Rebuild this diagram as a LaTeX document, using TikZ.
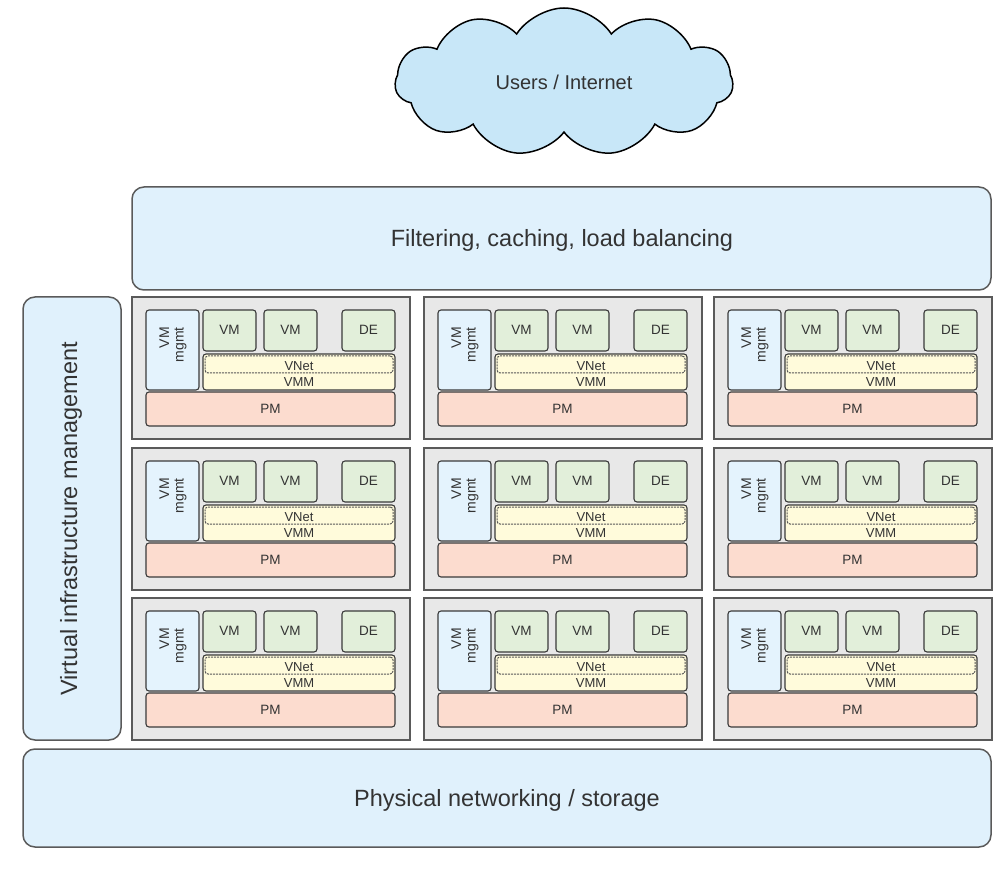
\documentclass[tikz,border=0pt]{standalone}
\usepackage{fontspec}
\setmainfont{Liberation Sans}
\usetikzlibrary{shapes.symbols}
\definecolor{txtc}{HTML}{333333}
\definecolor{barfill}{HTML}{E0F1FC}
\definecolor{barline}{HTML}{5A5A5A}
\definecolor{cloudfill}{HTML}{C8E7F8}
\definecolor{cellfill}{HTML}{E8E8E8}
\definecolor{mgmtfill}{HTML}{E4F3FD}
\definecolor{vmfill}{HTML}{E2EFDA}
\definecolor{vmmfill}{HTML}{FFFBDB}
\definecolor{pmfill}{HTML}{FCDCCF}
\definecolor{boxline}{HTML}{3A3A3A}
\tikzset{
  box/.style={rectangle, anchor=north west, inner sep=0pt, outer sep=0pt, text=txtc},
  bar/.style={box, fill=barfill, draw=barline, line width=1.5pt, rounded corners=12pt, font=\fontsize{23.5}{26}\selectfont},
  cellbox/.style={box, fill=cellfill, draw=barline, line width=1.3pt},
  small/.style={box, draw=boxline, line width=1.1pt, rounded corners=3pt, font=\fontsize{13.5}{15}\selectfont},
  vmbox/.style={small, fill=vmfill},
  mgmtbox/.style={small, fill=mgmtfill},
  vmmbox/.style={small, fill=vmmfill},
  pmbox/.style={small, fill=pmfill},
  vnetbox/.style={box, draw=boxline!85, dash pattern=on 2pt off 1pt, line width=1pt, rounded corners=3pt},
  tinytxt/.style={text=txtc, inner sep=0pt, font=\fontsize{13}{14}\selectfont},
  lbl/.style={text=txtc, inner sep=0pt},
}
\begin{document}
\begin{tikzpicture}[x=1pt,y=-1pt]
\useasboundingbox (0,0) rectangle (1007,874);
% cloud
\node[cloud, cloud puffs=11, cloud puff arc=115, cloud ignores aspect, minimum width=338pt, minimum height=148pt, fill=cloudfill, draw=black, line width=1.5pt, inner sep=0pt, text=txtc, font=\fontsize{20}{22}\selectfont] (cloud) at (564,82) {Users / Internet};
% bars
\node[bar, minimum width=859pt, minimum height=103pt] (filter) at (132,187) {};
\node[lbl, font=\fontsize{23.5}{26}\selectfont] (filtertxt) at (562,240) {Filtering, caching, load balancing};
\node[bar, minimum width=98pt, minimum height=443pt] (vim) at (23,297) {};
\node[lbl, rotate=90, font=\fontsize{23.5}{26}\selectfont] (vimtxt) at (71,519) {Virtual infrastructure management};
\node[bar, minimum width=968pt, minimum height=98pt] (phys) at (23,749) {};
\node[lbl, font=\fontsize{23.5}{26}\selectfont] (phystxt) at (507,800) {Physical networking / storage};
% cells
\foreach \cx [count=\i] in {132,424,714}{
  \foreach \cy [count=\j] in {297,448,598}{
    \node[cellbox, minimum width=278pt, minimum height=142pt] (cell-\i-\j) at (\cx,\cy) {};
    \node[mgmtbox, minimum width=53pt, minimum height=80pt] (mgmt-\i-\j) at (\cx+14,\cy+13) {};
    \node[lbl, rotate=90, align=right, anchor=east, font=\fontsize{14}{14.5}\selectfont] (mgmttxt-\i-\j) at (\cx+41,\cy+30) {VM\\mgmt};
    \node[vmbox, minimum width=53pt, minimum height=41pt] (vma-\i-\j) at (\cx+71,\cy+13) {};
    \node[lbl, font=\fontsize{13.5}{15}\selectfont] (vmatxt-\i-\j) at (\cx+97.5,\cy+33) {VM};
    \node[vmbox, minimum width=53pt, minimum height=41pt] (vmb-\i-\j) at (\cx+132,\cy+13) {};
    \node[lbl, font=\fontsize{13.5}{15}\selectfont] (vmbtxt-\i-\j) at (\cx+158.5,\cy+33) {VM};
    \node[vmbox, minimum width=53pt, minimum height=41pt] (de-\i-\j) at (\cx+210,\cy+13) {};
    \node[lbl, font=\fontsize{13.5}{15}\selectfont] (detxt-\i-\j) at (\cx+236.5,\cy+33) {DE};
    \node[vmmbox, minimum width=192pt, minimum height=36pt] (vmm-\i-\j) at (\cx+71,\cy+57) {};
    \node[vnetbox, minimum width=188pt, minimum height=17pt] (vnet-\i-\j) at (\cx+73,\cy+59) {};
    \node[tinytxt] (vnettxt-\i-\j) at (\cx+167,\cy+69) {VNet};
    \node[tinytxt] (vmmtxt-\i-\j) at (\cx+167,\cy+85) {VMM};
    \node[pmbox, minimum width=249pt, minimum height=34pt] (pm-\i-\j) at (\cx+14,\cy+95) {};
    \node[lbl, font=\fontsize{13.5}{15}\selectfont] (pmtxt-\i-\j) at (\cx+138.5,\cy+112) {PM};
  }
}
\end{tikzpicture}
\end{document}
